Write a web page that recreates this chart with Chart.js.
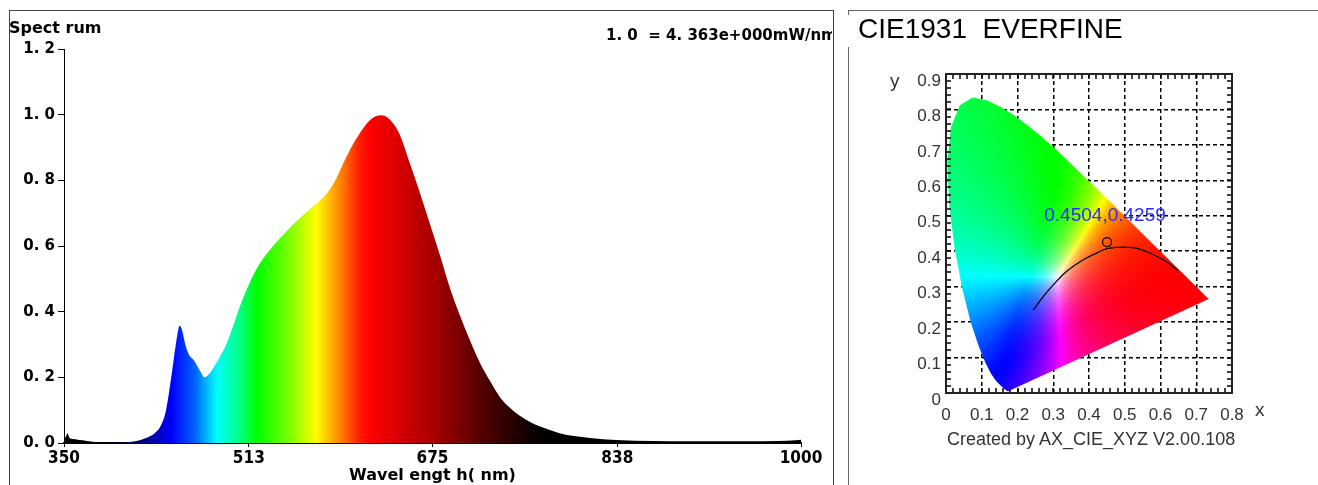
<!DOCTYPE html>
<html>
<head>
<meta charset="utf-8">
<script src="https://cdn.jsdelivr.net/npm/chart.js@4.4.1/dist/chart.umd.min.js"></script>
<style>
  html, body { margin: 0; padding: 0; background: #fff; }
  #page { position: relative; width: 1318px; height: 485px; overflow: hidden; background: #fff; }
  .abs { position: absolute; }
  #specFrame { left: 9px; top: 10px; width: 825px; height: 480px; border: 1.5px solid #444; border-bottom: none; box-sizing: border-box; }
  #specBox { left: 0; top: 0; width: 834px; height: 485px; }
  #specTitle { left: 9px; top: 20px; font: bold 16px 'DejaVu Sans', sans-serif; line-height: 16px; color: #000; }
  #specNote { left: 606px; top: 27px; width: 226px; overflow: hidden; white-space: pre; font: bold 15px 'DejaVu Sans', sans-serif; line-height: 16px; color: #000; }
  #cieTop { left: 848px; top: 10px; width: 470px; height: 0; border-top: 1.5px solid #666; }
  #cieStub { left: 848px; top: 10px; width: 0; height: 5px; border-left: 1.5px solid #666; }
  #cieLeft { left: 848px; top: 47px; width: 0; height: 440px; border-left: 1.5px solid #666; }
  #cieTitle { left: 858px; top: 13px; font: 28px 'Liberation Sans', Arial, sans-serif; line-height: 32px; color: #000; white-space: pre; }
  #cieBox { left: 849px; top: 48px; width: 469px; height: 437px; }
  #cieYLab { left: 890px; top: 71px; font: 19px 'Liberation Sans', Arial, sans-serif; line-height: 20px; color: #333; }
  #cieXLab { left: 1255px; top: 400px; font: 19px 'Liberation Sans', Arial, sans-serif; line-height: 20px; color: #333; }
  #cieCredit { left: 947px; top: 429px; font: 18px 'Liberation Sans', Arial, sans-serif; line-height: 20px; color: #333; white-space: pre; }
</style>
</head>
<body>
<div id="page">
  <div id="specFrame" class="abs"></div>
  <div id="specBox" class="abs"><canvas id="spectrumChart"></canvas></div>
  <div id="specTitle" class="abs">Spect rum</div>
  <div id="specNote" class="abs">1. 0  = 4. 363e+000mW/nm</div>

  <div id="cieTop" class="abs"></div>
  <div id="cieStub" class="abs"></div>
  <div id="cieLeft" class="abs"></div>
  <div id="cieTitle" class="abs">CIE1931  EVERFINE</div>
  <div id="cieBox" class="abs"><canvas id="cieChart"></canvas></div>
  <div id="cieYLab" class="abs">y</div>
  <div id="cieXLab" class="abs">x</div>
  <div id="cieCredit" class="abs">Created by AX_CIE_XYZ V2.00.108</div>
</div>

<script>
// --- Spektrum (relativ, 1.0 = 4.363 mW/nm) ---
const wavelengths = [350, 352, 353, 355, 358, 362, 366, 370, 375, 380, 390, 400, 410, 415, 420, 425, 430, 435,
  440, 445, 450, 452, 454, 457, 460, 465, 470, 474, 478, 482, 487, 493, 500, 505, 514, 523, 532, 543, 558,
  573, 582, 590, 596, 602, 611, 620, 630, 640, 646, 655, 664, 673, 682, 690, 699, 708, 717, 726, 735, 743,
  752, 761, 770, 787, 800, 814, 837, 870, 900, 950, 980, 995, 1000];
const intensity = [0.008, 0.022, 0.030, 0.015, 0.012, 0.010, 0.008, 0.006, 0.004, 0.003, 0.002, 0.002, 0.004, 0.007,
  0.012, 0.019, 0.030, 0.050, 0.10, 0.21, 0.33, 0.357, 0.345, 0.30, 0.27, 0.25, 0.22, 0.20, 0.21, 0.23, 0.26,
  0.30, 0.365, 0.415, 0.49, 0.548, 0.59, 0.633, 0.685, 0.731, 0.761, 0.805, 0.85, 0.892, 0.944, 0.984, 0.998,
  0.975, 0.94, 0.852, 0.761, 0.664, 0.567, 0.476, 0.39, 0.313, 0.243, 0.187, 0.137, 0.108, 0.083, 0.064, 0.05,
  0.03, 0.021, 0.015, 0.009, 0.006, 0.005, 0.005, 0.006, 0.008, 0.010];
const specXTicks = [350, 513, 675, 838, 1000];

// Farbverlauf nach Wellenlaenge
const gradNm = [350, 380, 420, 445, 465, 485, 505, 520, 550, 572, 590, 610, 620, 650, 680, 720, 770, 1000];
const gradColors = ['#000000', '#000000', '#00007a', '#0000ff', '#0060ff', '#00ffff', '#00ff80', '#00ff00',
  '#80ff00', '#ffff00', '#ff9900', '#ff2000', '#ff0000', '#d00000', '#a00000', '#500000', '#000000', '#000000'];

// --- CIE 1931 ---
const locusX = [0.1741, 0.1738, 0.1733, 0.1726, 0.1714, 0.1689, 0.1644, 0.1566, 0.1440, 0.1355, 0.1241, 0.1096,
  0.0913, 0.0687, 0.0454, 0.0235, 0.0082, 0.0039, 0.0139, 0.0389, 0.0743, 0.1142, 0.1547, 0.1929, 0.2296,
  0.2658, 0.3016, 0.3373, 0.3731, 0.4087, 0.4441, 0.4788, 0.5125, 0.5448, 0.5752, 0.6029, 0.6270, 0.6658,
  0.6915, 0.7079, 0.7190, 0.7260, 0.7300, 0.7334, 0.7347, 0.1741];
const locusY = [0.0050, 0.0049, 0.0048, 0.0048, 0.0051, 0.0069, 0.0109, 0.0177, 0.0297, 0.0399, 0.0578, 0.0868,
  0.1327, 0.2007, 0.2950, 0.4127, 0.5384, 0.6548, 0.7502, 0.8120, 0.8338, 0.8262, 0.8059, 0.7816, 0.7543,
  0.7243, 0.6923, 0.6589, 0.6245, 0.5896, 0.5547, 0.5202, 0.4866, 0.4544, 0.4242, 0.3965, 0.3725, 0.3340,
  0.3083, 0.2920, 0.2809, 0.2740, 0.2700, 0.2666, 0.2653, 0.0050];
const planckX = [0.244, 0.272, 0.300, 0.337, 0.384, 0.430, 0.458, 0.523, 0.570, 0.616, 0.649];
const planckY = [0.234, 0.272, 0.305, 0.343, 0.376, 0.399, 0.409, 0.410, 0.395, 0.371, 0.345];
const measX = [0.4504];
const measY = [0.4259];
const cieXTicks = [0, 0.1, 0.2, 0.3, 0.4, 0.5, 0.6, 0.7, 0.8];
const cieYTicks = [0, 0.1, 0.2, 0.3, 0.4, 0.5, 0.6, 0.7, 0.8, 0.9];

// Verlauf fuer die Spektrumsflaeche
function spectrumFill(context) {
  const chart = context.chart;
  if (!chart.chartArea) return '#000';
  const xs = chart.scales.x;
  const x0 = xs.getPixelForValue(350), x1 = xs.getPixelForValue(1000);
  const g = chart.ctx.createLinearGradient(x0, 0, x1, 0);
  gradNm.forEach((nm, i) => g.addColorStop((nm - 350) / 650, gradColors[i]));
  return g;
}

// xy -> RGB (nur zum Einfaerben der Hufeisenflaeche)
function xyToRgb(x, y) {
  const X = x / y, Y = 1, Z = (1 - x - y) / y;
  let r = 3.2406 * X - 1.5372 * Y - 0.4986 * Z;
  let g = -0.9689 * X + 1.8758 * Y + 0.0415 * Z;
  let b = 0.0557 * X - 0.2040 * Y + 1.0570 * Z;
  const m = Math.min(r, g, b);
  if (m < 0) { r -= m; g -= m; b -= m; }
  const M = Math.max(r, g, b) || 1;
  return [r, g, b].map(c => Math.round(255 * Math.pow(c / M, 1.5)));
}

let locusPattern = null, patternKey = '';
function locusFill(context) {
  const chart = context.chart;
  const area = chart.chartArea;
  if (!area) return 'rgba(0,0,0,0)';
  const key = [area.left, area.top, area.right, area.bottom, chart.width, chart.height].join(',');
  if (locusPattern && key === patternKey) return locusPattern;
  const xs = chart.scales.x, ys = chart.scales.y;
  const w = chart.width, h = chart.height;
  const off = document.createElement('canvas');
  off.width = w; off.height = h;
  const octx = off.getContext('2d');
  const img = octx.createImageData(w, h);
  for (let py = Math.floor(area.top); py < Math.min(h, Math.ceil(area.bottom) + 1); py++) {
    const cy = Math.max(0.003, ys.getValueForPixel(py + 0.5));
    for (let px = Math.floor(area.left); px < Math.min(w, Math.ceil(area.right)); px++) {
      const cx = Math.max(0.001, xs.getValueForPixel(px + 0.5));
      const [r, g, b] = xyToRgb(cx, cy);
      const i = (py * w + px) * 4;
      img.data[i] = r; img.data[i + 1] = g; img.data[i + 2] = b; img.data[i + 3] = 255;
    }
  }
  octx.putImageData(img, 0, 0);
  locusPattern = chart.ctx.createPattern(off, 'no-repeat');
  patternKey = key;
  return locusPattern;
}

// Rahmen + kleine Striche (0.02) im CIE-Diagramm
const cieFramePlugin = {
  id: 'cieFrame',
  afterDatasetsDraw(chart) {
    const {ctx, chartArea: a, scales: {x, y}} = chart;
    ctx.save();
    ctx.strokeStyle = '#000';
    ctx.lineWidth = 1.5;
    ctx.beginPath();
    for (let i = 0; i <= 40; i++) {
      const px = Math.round(x.getPixelForValue(i * 0.02));
      ctx.moveTo(px, a.bottom); ctx.lineTo(px, a.bottom - 5);
      ctx.moveTo(px, a.top); ctx.lineTo(px, a.top + 5);
    }
    for (let i = 0; i <= 45; i++) {
      const py = Math.round(y.getPixelForValue(i * 0.02));
      ctx.moveTo(a.left, py); ctx.lineTo(a.left + 5, py);
      ctx.moveTo(a.right, py); ctx.lineTo(a.right - 5, py);
    }
    ctx.stroke();
    ctx.lineWidth = 2;
    ctx.strokeStyle = '#222';
    ctx.strokeRect(a.left, a.top, a.right - a.left, a.bottom - a.top);
    // Koordinaten-Beschriftung am Messpunkt
    const mx = x.getPixelForValue(measX[0]), my = y.getPixelForValue(measY[0]);
    ctx.fillStyle = '#2a2aff';
    ctx.font = '19px "Liberation Sans", Arial, sans-serif';
    ctx.textAlign = 'center';
    ctx.textBaseline = 'middle';
    ctx.fillText(measX[0].toFixed(4) + ',' + measY[0].toFixed(4), mx - 2, my - 26);
    ctx.restore();
  }
};

new Chart(document.getElementById('spectrumChart'), {
  type: 'line',
  data: {
    datasets: [{
      data: wavelengths.map((w, i) => ({x: w, y: intensity[i]})),
      borderWidth: 0,
      borderColor: 'rgba(0,0,0,0)',
      backgroundColor: spectrumFill,
      fill: 'origin',
      pointRadius: 0,
      cubicInterpolationMode: 'monotone'
    }]
  },
  options: {
    responsive: true,
    maintainAspectRatio: false,
    animation: false,
    devicePixelRatio: 1,
    layout: { padding: { top: 49, right: 33, left: 0, bottom: 0 } },
    plugins: { legend: { display: false }, tooltip: { enabled: false } },
    scales: {
      x: {
        type: 'linear',
        min: 350,
        max: 1000,
        afterBuildTicks: s => { s.ticks = specXTicks.map(v => ({value: v})); },
        afterFit: s => { s.height = 42; },
        ticks: {
          autoSkip: false, maxRotation: 0, minRotation: 0, padding: 1, color: '#000',
          callback: v => String(v),
          font: { family: "'DejaVu Sans Condensed', 'DejaVu Sans', sans-serif", size: 17, weight: 'bold' }
        },
        grid: { drawOnChartArea: false, drawTicks: true, tickLength: 4, color: '#000' },
        border: { color: '#000', width: 2 },
        title: {
          display: true, text: 'Wavel engt h( nm)', color: '#000', padding: 0,
          font: { family: "'DejaVu Sans', sans-serif", size: 16, weight: 'bold' }
        }
      },
      y: {
        min: 0,
        max: 1.2,
        afterFit: s => { s.width = 64; },
        ticks: {
          stepSize: 0.2, padding: 3, color: '#000',
          callback: v => v.toFixed(1).replace('.', '. '),
          font: { family: "'DejaVu Sans', sans-serif", size: 15, weight: 'bold' }
        },
        grid: { drawOnChartArea: false, drawTicks: true, tickLength: 6, color: '#000' },
        border: { color: '#000', width: 1 }
      }
    }
  }
});

new Chart(document.getElementById('cieChart'), {
  type: 'line',
  data: {
    datasets: [
      {
        data: measX.map((v, i) => ({x: v, y: measY[i]})),
        showLine: false,
        pointRadius: 4.5,
        pointBorderWidth: 1.2,
        pointBorderColor: '#000',
        pointBackgroundColor: 'rgba(0,0,0,0)',
        order: 0
      },
      {
        data: planckX.map((v, i) => ({x: v, y: planckY[i]})),
        borderColor: '#000',
        borderWidth: 1.3,
        pointRadius: 0,
        fill: false,
        tension: 0.4,
        order: 1
      },
      {
        data: locusX.map((v, i) => ({x: v, y: locusY[i]})),
        borderWidth: 0,
        borderColor: 'rgba(0,0,0,0)',
        backgroundColor: locusFill,
        fill: 'shape',
        pointRadius: 0,
        tension: 0,
        order: 2
      }
    ]
  },
  options: {
    responsive: true,
    maintainAspectRatio: false,
    animation: false,
    devicePixelRatio: 1,
    layout: { padding: { top: 26, right: 86, left: 0, bottom: 0 } },
    plugins: { legend: { display: false }, tooltip: { enabled: false } },
    scales: {
      x: {
        type: 'linear',
        min: 0,
        max: 0.8,
        afterBuildTicks: s => { s.ticks = cieXTicks.map(v => ({value: v})); },
        afterFit: s => { s.height = 92; },
        ticks: {
          autoSkip: false, maxRotation: 0, padding: 12, color: '#333',
          callback: v => v === 0 ? '0' : v.toFixed(1),
          font: { family: "'Liberation Sans', Arial, sans-serif", size: 17 }
        },
        grid: { color: '#000', lineWidth: 1.5, drawTicks: false },
        border: { display: true, color: '#000', width: 2, dash: [4, 3] }
      },
      y: {
        type: 'linear',
        min: 0,
        max: 0.9,
        afterBuildTicks: s => { s.ticks = cieYTicks.map(v => ({value: v})); },
        afterFit: s => { s.width = 97; },
        ticks: {
          autoSkip: false, padding: 5, color: '#333', labelOffset: 7,
          callback: v => v === 0 ? '0' : v.toFixed(1),
          font: { family: "'Liberation Sans', Arial, sans-serif", size: 17 }
        },
        grid: { color: '#000', lineWidth: 1.5, drawTicks: false },
        border: { display: true, color: '#000', width: 2, dash: [4, 3] }
      }
    }
  },
  plugins: [cieFramePlugin]
});
</script>
</body>
</html>
